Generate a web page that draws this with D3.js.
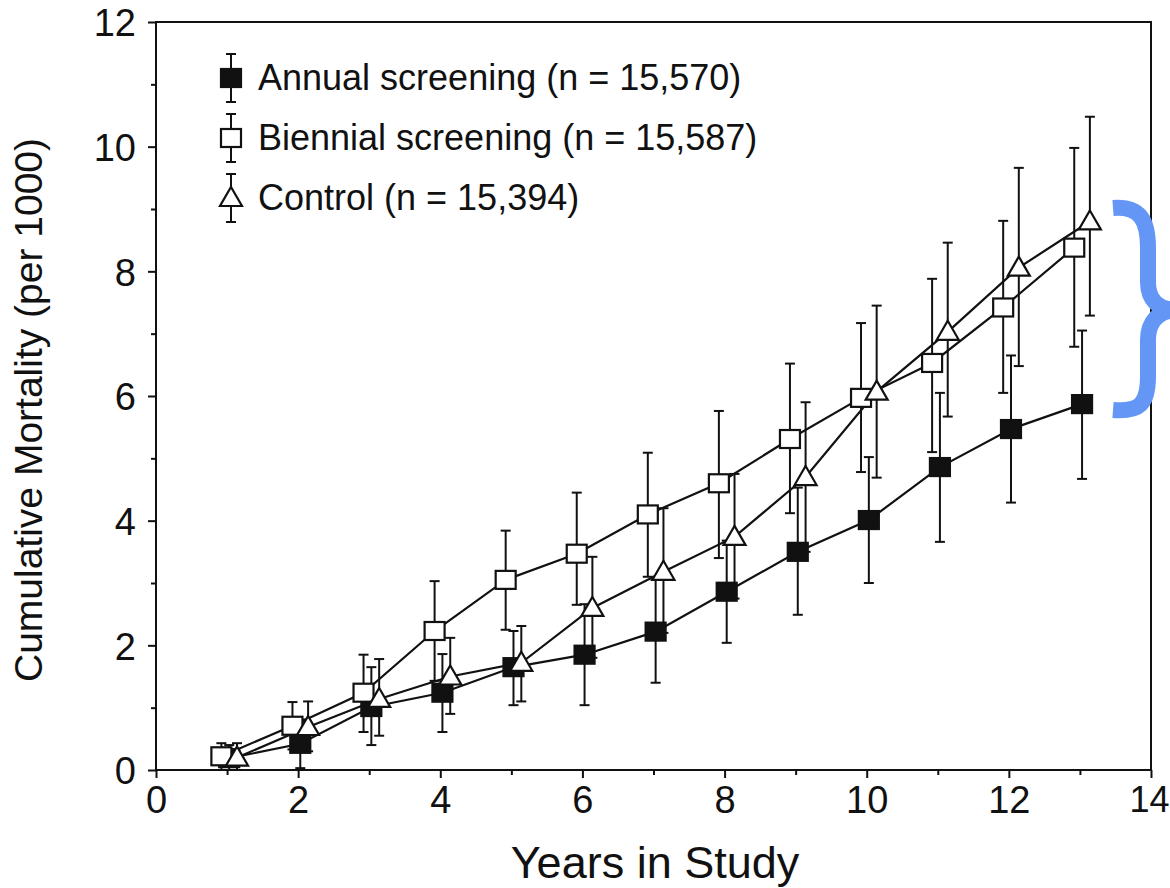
<!DOCTYPE html>
<html>
<head>
<meta charset="utf-8">
<script src="https://cdn.jsdelivr.net/npm/d3@7"></script>
<style>
  body { margin: 0; background: #fff; }
  svg { font-family: "Liberation Sans", Arial, Helvetica, sans-serif; }
</style>
</head>
<body>
<div id="app"></div>
<script>
// values
const years = [1, 2, 3, 4, 5, 6, 7, 8, 9, 10, 11, 12, 13];

const annual   = [0.19, 0.42, 1.01, 1.24, 1.65, 1.85, 2.22, 2.86, 3.50, 4.01, 4.86, 5.47, 5.87];
const annualLo = [0.00, 0.03, 0.40, 0.61, 1.04, 1.04, 1.40, 2.04, 2.49, 3.00, 3.66, 4.29, 4.67];
const annualHi = [0.40, 0.81, 1.65, 1.86, 2.23, 2.66, 3.05, 3.68, 4.53, 5.02, 6.05, 6.65, 7.05];

const biennial   = [0.22, 0.71, 1.24, 2.23, 3.05, 3.47, 4.10, 4.60, 5.31, 5.97, 6.53, 7.42, 8.38];
const biennialLo = [0.00, 0.33, 0.61, 1.43, 2.25, 2.65, 3.10, 3.40, 4.12, 4.78, 5.10, 6.05, 6.79];
const biennialHi = [0.43, 1.09, 1.85, 3.03, 3.84, 4.45, 5.09, 5.76, 6.52, 7.17, 7.88, 8.81, 9.98];

const control   = [0.20, 0.69, 1.14, 1.50, 1.72, 2.60, 3.18, 3.74, 4.70, 6.07, 7.03, 8.06, 8.80];
const controlLo = [0.00, 0.30, 0.55, 0.90, 1.10, 1.80, 2.20, 2.75, 3.50, 4.69, 5.67, 6.48, 7.29];
const controlHi = [0.43, 1.10, 1.78, 2.12, 2.31, 3.42, 4.20, 4.75, 5.90, 7.45, 8.46, 9.66, 10.48];

const seriesNames = ["Annual screening (n = 15,570)", "Biennial screening (n = 15,587)", "Control (n = 15,394)"];
const xTicks = [0, 2, 4, 6, 8, 10, 12, 14];
const yTicks = [0, 2, 4, 6, 8, 10, 12];

const W = 1170, H = 888;
const x = d3.scaleLinear().domain([0, 14]).range([156, 1151]);
const y = d3.scaleLinear().domain([0, 12]).range([770, 22]);

const svg = d3.select("#app").append("svg").attr("width", W).attr("height", H);

// frame
svg.append("rect")
  .attr("x", x(0)).attr("y", y(12))
  .attr("width", x(14) - x(0)).attr("height", y(0) - y(12))
  .attr("fill", "none").attr("stroke", "#111").attr("stroke-width", 2);

// axes
const yAx = svg.append("g").attr("transform", `translate(${x(0)},0)`)
  .call(d3.axisLeft(y).tickValues(yTicks).tickSize(8).tickPadding(12).tickFormat(d3.format("d")));
svg.append("g").attr("transform", `translate(${x(0)},0)`)
  .call(d3.axisLeft(y).tickValues(d3.range(1, 12, 2)).tickSize(5).tickFormat(""));
const xAx = svg.append("g").attr("transform", `translate(0,${y(0)})`)
  .call(d3.axisBottom(x).tickValues(xTicks).tickSize(8).tickPadding(8).tickFormat(d3.format("d")));
svg.append("g").attr("transform", `translate(0,${y(0)})`)
  .call(d3.axisBottom(x).tickValues(d3.range(1, 14, 2)).tickSize(5).tickFormat(""));

svg.selectAll(".domain").remove();
svg.selectAll(".tick line").attr("stroke", "#111").attr("stroke-width", 2);
svg.selectAll(".tick text").attr("fill", "#111").attr("font-size", 38).attr("font-family", null);
yAx.selectAll(".tick text").attr("dy", "0.36em");
// last label sits at the page edge; nudge it in so it stays whole
xAx.selectAll(".tick text").filter(d => d === 14).attr("dx", -2).attr("font-size", 36);

// axis titles
svg.append("text")
  .attr("transform", `translate(42,410) rotate(-90)`)
  .attr("text-anchor", "middle").attr("font-size", 39).attr("fill", "#111")
  .text("Cumulative Mortality (per 1000)");
svg.append("text")
  .attr("x", 655).attr("y", 878)
  .attr("text-anchor", "middle").attr("font-size", 45).attr("fill", "#111")
  .text("Years in Study");

// series
const series = [
  {name: seriesNames[0], v: annual,   lo: annualLo,   hi: annualHi,   dx: 0.03,  shape: "filled"},
  {name: seriesNames[1], v: biennial, lo: biennialLo, hi: biennialHi, dx: -0.08, shape: "open"},
  {name: seriesNames[2], v: control,  lo: controlLo,  hi: controlHi,  dx: 0.14,  shape: "tri"}
];

function marker(g, shape) {
  if (shape === "tri") {
    g.append("path").attr("d", "M0,-11 L11,8 L-11,8 Z")
      .attr("fill", "#fff").attr("stroke", "#111").attr("stroke-width", 2.2);
  } else {
    g.append("rect").attr("x", -10).attr("y", -9).attr("width", 20).attr("height", 18)
      .attr("fill", shape === "filled" ? "#111" : "#fff")
      .attr("stroke", "#111").attr("stroke-width", 2.2);
  }
}

function errBar(g, x0, y1, y2) {
  g.append("line").attr("x1", x0).attr("x2", x0).attr("y1", y1).attr("y2", y2);
  g.append("line").attr("x1", x0 - 5).attr("x2", x0 + 5).attr("y1", y1).attr("y2", y1);
  g.append("line").attr("x1", x0 - 5).attr("x2", x0 + 5).attr("y1", y2).attr("y2", y2);
}

const bars = svg.append("g").attr("stroke", "#111").attr("stroke-width", 2);
series.forEach(s => {
  years.forEach((yr, i) => errBar(bars, x(yr + s.dx), y(s.hi[i]), y(s.lo[i])));
});

const line = d3.line().x(d => x(d[0])).y(d => y(d[1]));
series.forEach(s => {
  svg.append("path")
    .attr("d", line(years.map((yr, i) => [yr + s.dx, s.v[i]])))
    .attr("fill", "none").attr("stroke", "#111").attr("stroke-width", 2.2);
});

series.forEach(s => {
  years.forEach((yr, i) => {
    const g = svg.append("g").attr("transform", `translate(${x(yr + s.dx)},${y(s.v[i])})`);
    marker(g, s.shape);
  });
});

// legend
const leg = svg.append("g");
series.forEach((s, i) => {
  const cy = 78 + i * 60;
  const g = leg.append("g").attr("transform", `translate(231,${cy})`);
  const eb = g.append("g").attr("stroke", "#111").attr("stroke-width", 2);
  errBar(eb, 0, -24, 24);
  marker(g, s.shape);
  leg.append("text").attr("x", 258).attr("y", cy + 12)
    .attr("font-size", 36).attr("fill", "#111").text(s.name);
});

// blue brace on the right
svg.append("path")
  .attr("d", "M1113,208 C1140,206 1148,220 1148,248 L1148,282 C1148,300 1158,310 1178,310 C1158,310 1148,322 1148,340 L1148,376 C1148,404 1140,412 1113,410")
  .attr("fill", "none").attr("stroke", "#6497f5").attr("stroke-width", 16);
</script>
</body>
</html>
